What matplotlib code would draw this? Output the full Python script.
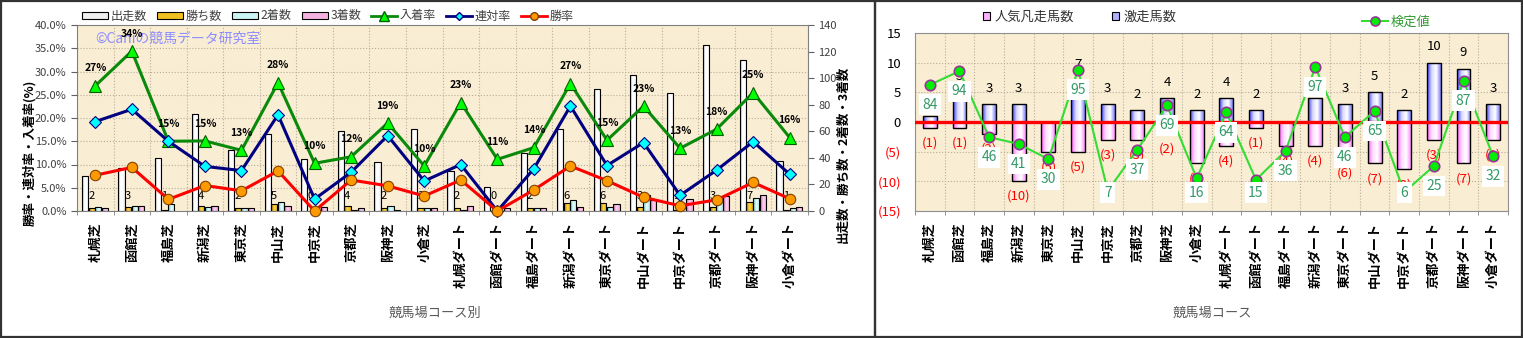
"""競馬場コース別の成績（出走数・着数・各種率）と検定値グラフを描いて out.png に保存。"""

import numpy as np
import matplotlib
matplotlib.use("Agg")
import matplotlib.pyplot as plt
import matplotlib.transforms as mtransforms
from matplotlib.colors import LinearSegmentedColormap
from matplotlib.lines import Line2D
from matplotlib.patches import Rectangle
from matplotlib.ticker import FixedLocator, MultipleLocator

# 日文字体优先，缺字时回退到 DejaVu
plt.rcParams["font.family"] = ["Noto Sans CJK JP", "DejaVu Sans"]

# ---- 数据 ----
courses = ["札幌芝", "函館芝", "福島芝", "新潟芝", "東京芝", "中山芝", "中京芝", "京都芝",
           "阪神芝", "小倉芝", "札幌ダート", "函館ダート", "福島ダート", "新潟ダート",
           "東京ダート", "中山ダート", "中京ダート", "京都ダート", "阪神ダート", "小倉ダート"]
starts = [26, 32, 40, 73, 46, 58, 39, 60, 37, 62, 30, 18, 44, 62, 92, 102, 89, 125, 114, 38]
wins = [2, 3, 1, 4, 2, 5, 0, 4, 2, 2, 2, 0, 2, 6, 6, 3, 1, 3, 7, 1]
seconds = [3, 4, 5, 3, 2, 7, 1, 1, 4, 2, 1, 0, 2, 8, 3, 12, 2, 8, 10, 2]
thirds = [2, 4, 0, 4, 2, 4, 3, 2, 1, 2, 4, 2, 2, 3, 5, 8, 9, 11, 12, 3]

pct_ticks = [0, 5, 10, 15, 20, 25, 30, 35, 40]
pct_tick_labels = ["0.0%", "5.0%", "10.0%", "15.0%", "20.0%", "25.0%", "30.0%", "35.0%", "40.0%"]
count_ticks = [0, 20, 40, 60, 80, 100, 120, 140]

hit_counts = [1, 5, 3, 3, 0, 7, 3, 2, 4, 2, 4, 2, 0, 4, 3, 5, 2, 10, 9, 3]     # 激走馬数
flop_counts = [1, 1, 2, 10, 5, 5, 3, 3, 2, 7, 4, 1, 4, 4, 6, 7, 8, 3, 7, 3]    # 人気凡走馬数
test_values = [84, 94, 46, 41, 30, 95, 7, 37, 69, 16, 64, 15, 36, 97, 46, 65, 6, 25, 87, 32]
diff_ticks = [-15, -10, -5, 0, 5, 10, 15]
diff_tick_labels = ["(15)", "(10)", "(5)", "0", "5", "10", "15"]

W, H = 1523, 338
BG = "#f9edd3"
GRID = "#b8ae9c"


def px_rect(left, top, right, bottom):
    """像素坐标 -> figure 坐标"""
    return [left / W, 1 - bottom / H, (right - left) / W, (bottom - top) / H]


def gradient_fill(ax, bars, colors):
    """给柱子加横向渐变（imshow 裁剪到柱子形状）"""
    cmap = LinearSegmentedColormap.from_list("bar", colors)
    grad = np.linspace(0, 1, 64).reshape(1, -1)
    for bar in bars:
        x0, y0 = bar.get_xy()
        w, h = bar.get_width(), bar.get_height()
        if h == 0:
            bar.set_visible(False)
            continue
        im = ax.imshow(grad, cmap=cmap, extent=[x0, x0 + w, y0, y0 + h], aspect="auto",
                       interpolation="bilinear", zorder=bar.get_zorder() - 0.05)
        im.set_clip_path(bar)
        bar.set_facecolor("none")


def draw_results(fig, x):
    """左图：出走数・着数柱 + 勝率・連対率・入着率折线"""
    ax = fig.add_axes(px_rect(77, 25, 808, 211))
    ax.set_facecolor(BG)

    bw = 0.17
    bar_series = [
        (starts, -0.28, ["#a0a0a0", "#ffffff", "#ffffff", "#e4e4e4"]),
        (wins, -0.10, ["#a87a00", "#ffd84a", "#e0aa00"]),
        (seconds, 0.08, ["#68c4c4", "#e8ffff", "#b4ecec"]),
        (thirds, 0.26, ["#c868a8", "#ffd4f0", "#f0a4d8"]),
    ]
    for vals, off, cols in bar_series:
        bars = ax.bar(x + off, vals, bw, edgecolor="black", linewidth=0.8, zorder=2)
        gradient_fill(ax, bars, cols)

    # 率
    st = np.array(starts, dtype=float)
    win_rate = np.array(wins) / st * 100
    ren_rate = (np.array(wins) + np.array(seconds)) / st * 100
    place_rate = (np.array(wins) + np.array(seconds) + np.array(thirds)) / st * 100

    # twinx 会把原轴刻度挪到左边，所以先建副轴再设置
    ax2 = ax.twinx()

    ax.set_xlim(-0.5, len(courses) - 0.5)
    ax.set_ylim(0, 140)
    ax.yaxis.tick_right()
    ax.set_yticks(count_ticks)
    ax.yaxis.set_minor_locator(MultipleLocator(17.5))
    ax.xaxis.set_minor_locator(FixedLocator(np.arange(-0.5, len(courses), 1)))
    ax.grid(which="minor", ls=":", lw=0.8, color=GRID)
    ax.set_axisbelow(True)
    ax.set_xticks(x, courses, rotation=90, fontsize=9.5, fontweight="bold")
    ax.tick_params(axis="x", which="major", length=0, pad=8)
    ax.tick_params(axis="x", which="minor", length=3, color="#808080")
    ax.tick_params(axis="y", which="minor", length=0)
    ax.tick_params(axis="y", which="major", length=4, color="#606060",
                   labelsize=8, labelcolor="#404040")
    for s in ax.spines.values():
        s.set_color("#808080")

    # 勝ち数的数字标签
    blend = mtransforms.blended_transform_factory(ax.transData, ax.transAxes)
    for i, v in enumerate(wins):
        ax.text(i - 0.11, 0.08, str(v), transform=blend, ha="center", va="center",
                fontsize=8, color="black", zorder=4)

    ax2.yaxis.tick_left()
    ax2.set_ylim(0, 40)
    ax2.set_yticks(pct_ticks, pct_tick_labels)
    ax2.tick_params(axis="y", length=4, color="#606060", labelsize=8, labelcolor="#404040")
    for s in ax2.spines.values():
        s.set_visible(False)

    ax2.plot(x, place_rate, color="#0a8a0a", lw=2.2, marker="^", ms=9,
             mfc="#00ff00", mec="#006000", mew=0.8, zorder=3, clip_on=False)
    ax2.plot(x, ren_rate, color="#000080", lw=2.2, marker="D", ms=6,
             mfc="#00ffff", mec="#000080", mew=0.8, zorder=3, clip_on=False)
    ax2.plot(x, win_rate, color="#ff0000", lw=2.2, marker="o", ms=7.5,
             mfc="#ff9900", mec="#804000", mew=0.8, zorder=3, clip_on=False)
    for i, v in enumerate(place_rate):
        ax2.annotate(f"{v:.0f}%", (i, v), xytext=(0, 12.5), textcoords="offset points",
                     ha="center", va="center", fontsize=7.5, fontweight="bold", zorder=5)

    ax2.text(0.025, 0.925, "©Caniの競馬データ研究室", transform=ax2.transAxes,
             ha="left", va="center", fontsize=10, color="#8c8cff")

    handles = [
        Rectangle((0, 0), 1, 1, fc="#f0f0f0", ec="black", lw=0.8),
        Rectangle((0, 0), 1, 1, fc="#f0c020", ec="black", lw=0.8),
        Rectangle((0, 0), 1, 1, fc="#c8f4f4", ec="black", lw=0.8),
        Rectangle((0, 0), 1, 1, fc="#f4b4e0", ec="black", lw=0.8),
        Line2D([], [], color="#0a8a0a", lw=2, marker="^", ms=6.5, mfc="#00ff00", mec="#006000"),
        Line2D([], [], color="#000080", lw=2, marker="D", ms=4.5, mfc="#00ffff", mec="#000080"),
        Line2D([], [], color="#ff0000", lw=2, marker="o", ms=5.5, mfc="#ff9900", mec="#804000"),
    ]
    labels = ["出走数", "勝ち数", "2着数", "3着数", "入着率", "連対率", "勝率"]
    fig.legend(handles, labels, loc="center left", bbox_to_anchor=(82 / W, 1 - 16 / H),
               ncol=7, frameon=False, fontsize=8.7, handlelength=2.15, handleheight=0.5,
               handletextpad=0.2, columnspacing=0.85, borderpad=0, borderaxespad=0,
               labelcolor="#404040")

    fig.text(30 / W, 1 - 153 / H, "勝率・連対率・入着率(%)", rotation=90, ha="center",
             va="center", fontsize=9, fontweight="bold")
    fig.text(843 / W, 1 - 154 / H, "出走数・勝ち数・2着数・3着数", rotation=90, ha="center",
             va="center", fontsize=9, fontweight="bold")
    fig.text(435 / W, 1 - 313 / H, "競馬場コース別", ha="center", va="center",
             fontsize=9.5, color="#595959")


def draw_test(fig, x):
    """右图：激走/人気凡走柱 + 検定値折线"""
    bx = fig.add_axes(px_rect(915, 33.3, 1508, 210.7))
    bx.set_facecolor(BG)

    hb = bx.bar(x, hit_counts, 0.47, edgecolor="black", linewidth=1, zorder=2)
    fb = bx.bar(x, -np.array(flop_counts), 0.47, edgecolor="black", linewidth=1, zorder=2)
    gradient_fill(bx, hb, ["#3c3cff", "#d8d8ff", "#ffffff", "#7c7cff"])
    gradient_fill(bx, fb, ["#ff5cff", "#ffdcff", "#ffffff", "#ff8cff"])
    bx.axhline(0, color="#ff0000", lw=2.4, zorder=3)

    for i, v in enumerate(hit_counts):
        if v:
            bx.annotate(str(v), (i, v), xytext=(0, 11.5), textcoords="offset points",
                        ha="center", va="center", fontsize=9.5, color="black", zorder=4)
    for i, v in enumerate(flop_counts):
        if v:
            bx.annotate(f"({v})", (i, -v), xytext=(0, -11), textcoords="offset points",
                        ha="center", va="center", fontsize=9.5, color="#ff0000", zorder=4)

    # 検定值用隐藏的副轴
    bx2 = bx.twinx()

    bx.set_xlim(-0.5, len(courses) - 0.5)
    bx.set_ylim(-15, 15)
    bx.set_yticks(diff_ticks, diff_tick_labels)
    for lab, v in zip(bx.get_yticklabels(), diff_ticks):
        lab.set_color("#ff0000" if v < 0 else "black")
    bx.yaxis.set_minor_locator(MultipleLocator(5))
    bx.xaxis.set_minor_locator(FixedLocator(np.arange(-0.5, len(courses), 1)))
    bx.grid(which="minor", ls=":", lw=0.8, color=GRID)
    bx.grid(which="major", axis="y", ls=":", lw=0.8, color=GRID)
    bx.set_axisbelow(True)
    bx.set_xticks(x, courses, rotation=90, fontsize=9.5, fontweight="bold")
    bx.tick_params(axis="x", which="major", length=0, pad=8)
    bx.tick_params(axis="x", which="minor", length=3, color="#808080")
    bx.tick_params(axis="y", which="both", length=0, pad=10, labelsize=9.5)
    for s in bx.spines.values():
        s.set_color("#909090")

    lo, hi = -7.5, 121.5
    bx2.set_ylim(lo, hi)
    bx2.axis("off")
    bx2.plot(x, test_values, color="#33dd33", lw=1.5, marker="o", ms=7.5,
             mfc="#00ee00", mec="#993399", mew=1.2, zorder=3)
    blend = mtransforms.blended_transform_factory(bx2.transData, bx2.transAxes)
    for i, v in enumerate(test_values):
        frac = (v - lo) / (hi - lo)
        ly = max(frac - 20 / 177.4, 18 / 177.4)
        bx2.text(i, ly, str(v), transform=blend, ha="center", va="center", fontsize=10,
                 color="#339966", zorder=5,
                 bbox=dict(boxstyle="square,pad=0.25", fc="white", ec="none"))

    h1 = [Rectangle((0, 0), 1, 1, fc="#ffb0ff", ec="black", lw=0.8),
          Rectangle((0, 0), 1, 1, fc="#b0b0ff", ec="black", lw=0.8)]
    fig.legend(h1, ["人気凡走馬数", "激走馬数"], loc="center left",
               bbox_to_anchor=(983 / W, 1 - 17 / H), ncol=2, frameon=False, fontsize=9.5,
               handlelength=0.55, handleheight=0.55, handletextpad=0.3, columnspacing=2.9,
               borderpad=0, borderaxespad=0, labelcolor="#333333")
    h2 = [Line2D([], [], color="#33dd33", lw=1.5, marker="o", ms=6.5, mfc="#00ee00",
                 mec="#993399", mew=1.2)]
    fig.legend(h2, ["検定値"], loc="center left", bbox_to_anchor=(1362 / W, 1 - 22 / H),
               frameon=False, fontsize=9.5, handlelength=2.0, handletextpad=0.2,
               borderpad=0, borderaxespad=0, labelcolor="#339933")

    fig.text(1212 / W, 1 - 313 / H, "競馬場コース", ha="center", va="center",
             fontsize=9.5, color="#595959")


def main():
    fig = plt.figure(figsize=(W / 100, H / 100), dpi=100)
    x = np.arange(len(courses))
    draw_results(fig, x)
    draw_test(fig, x)

    # 两块图的外框
    for left, right in [(1, 875), (875, 1522)]:
        fig.add_artist(Rectangle((left / W, 1 / H), (right - left) / W, (H - 2) / H,
                                 transform=fig.transFigure, fill=False, ec="#333333", lw=1.6))
    fig.savefig("out.png", dpi=100)


if __name__ == "__main__":
    main()
